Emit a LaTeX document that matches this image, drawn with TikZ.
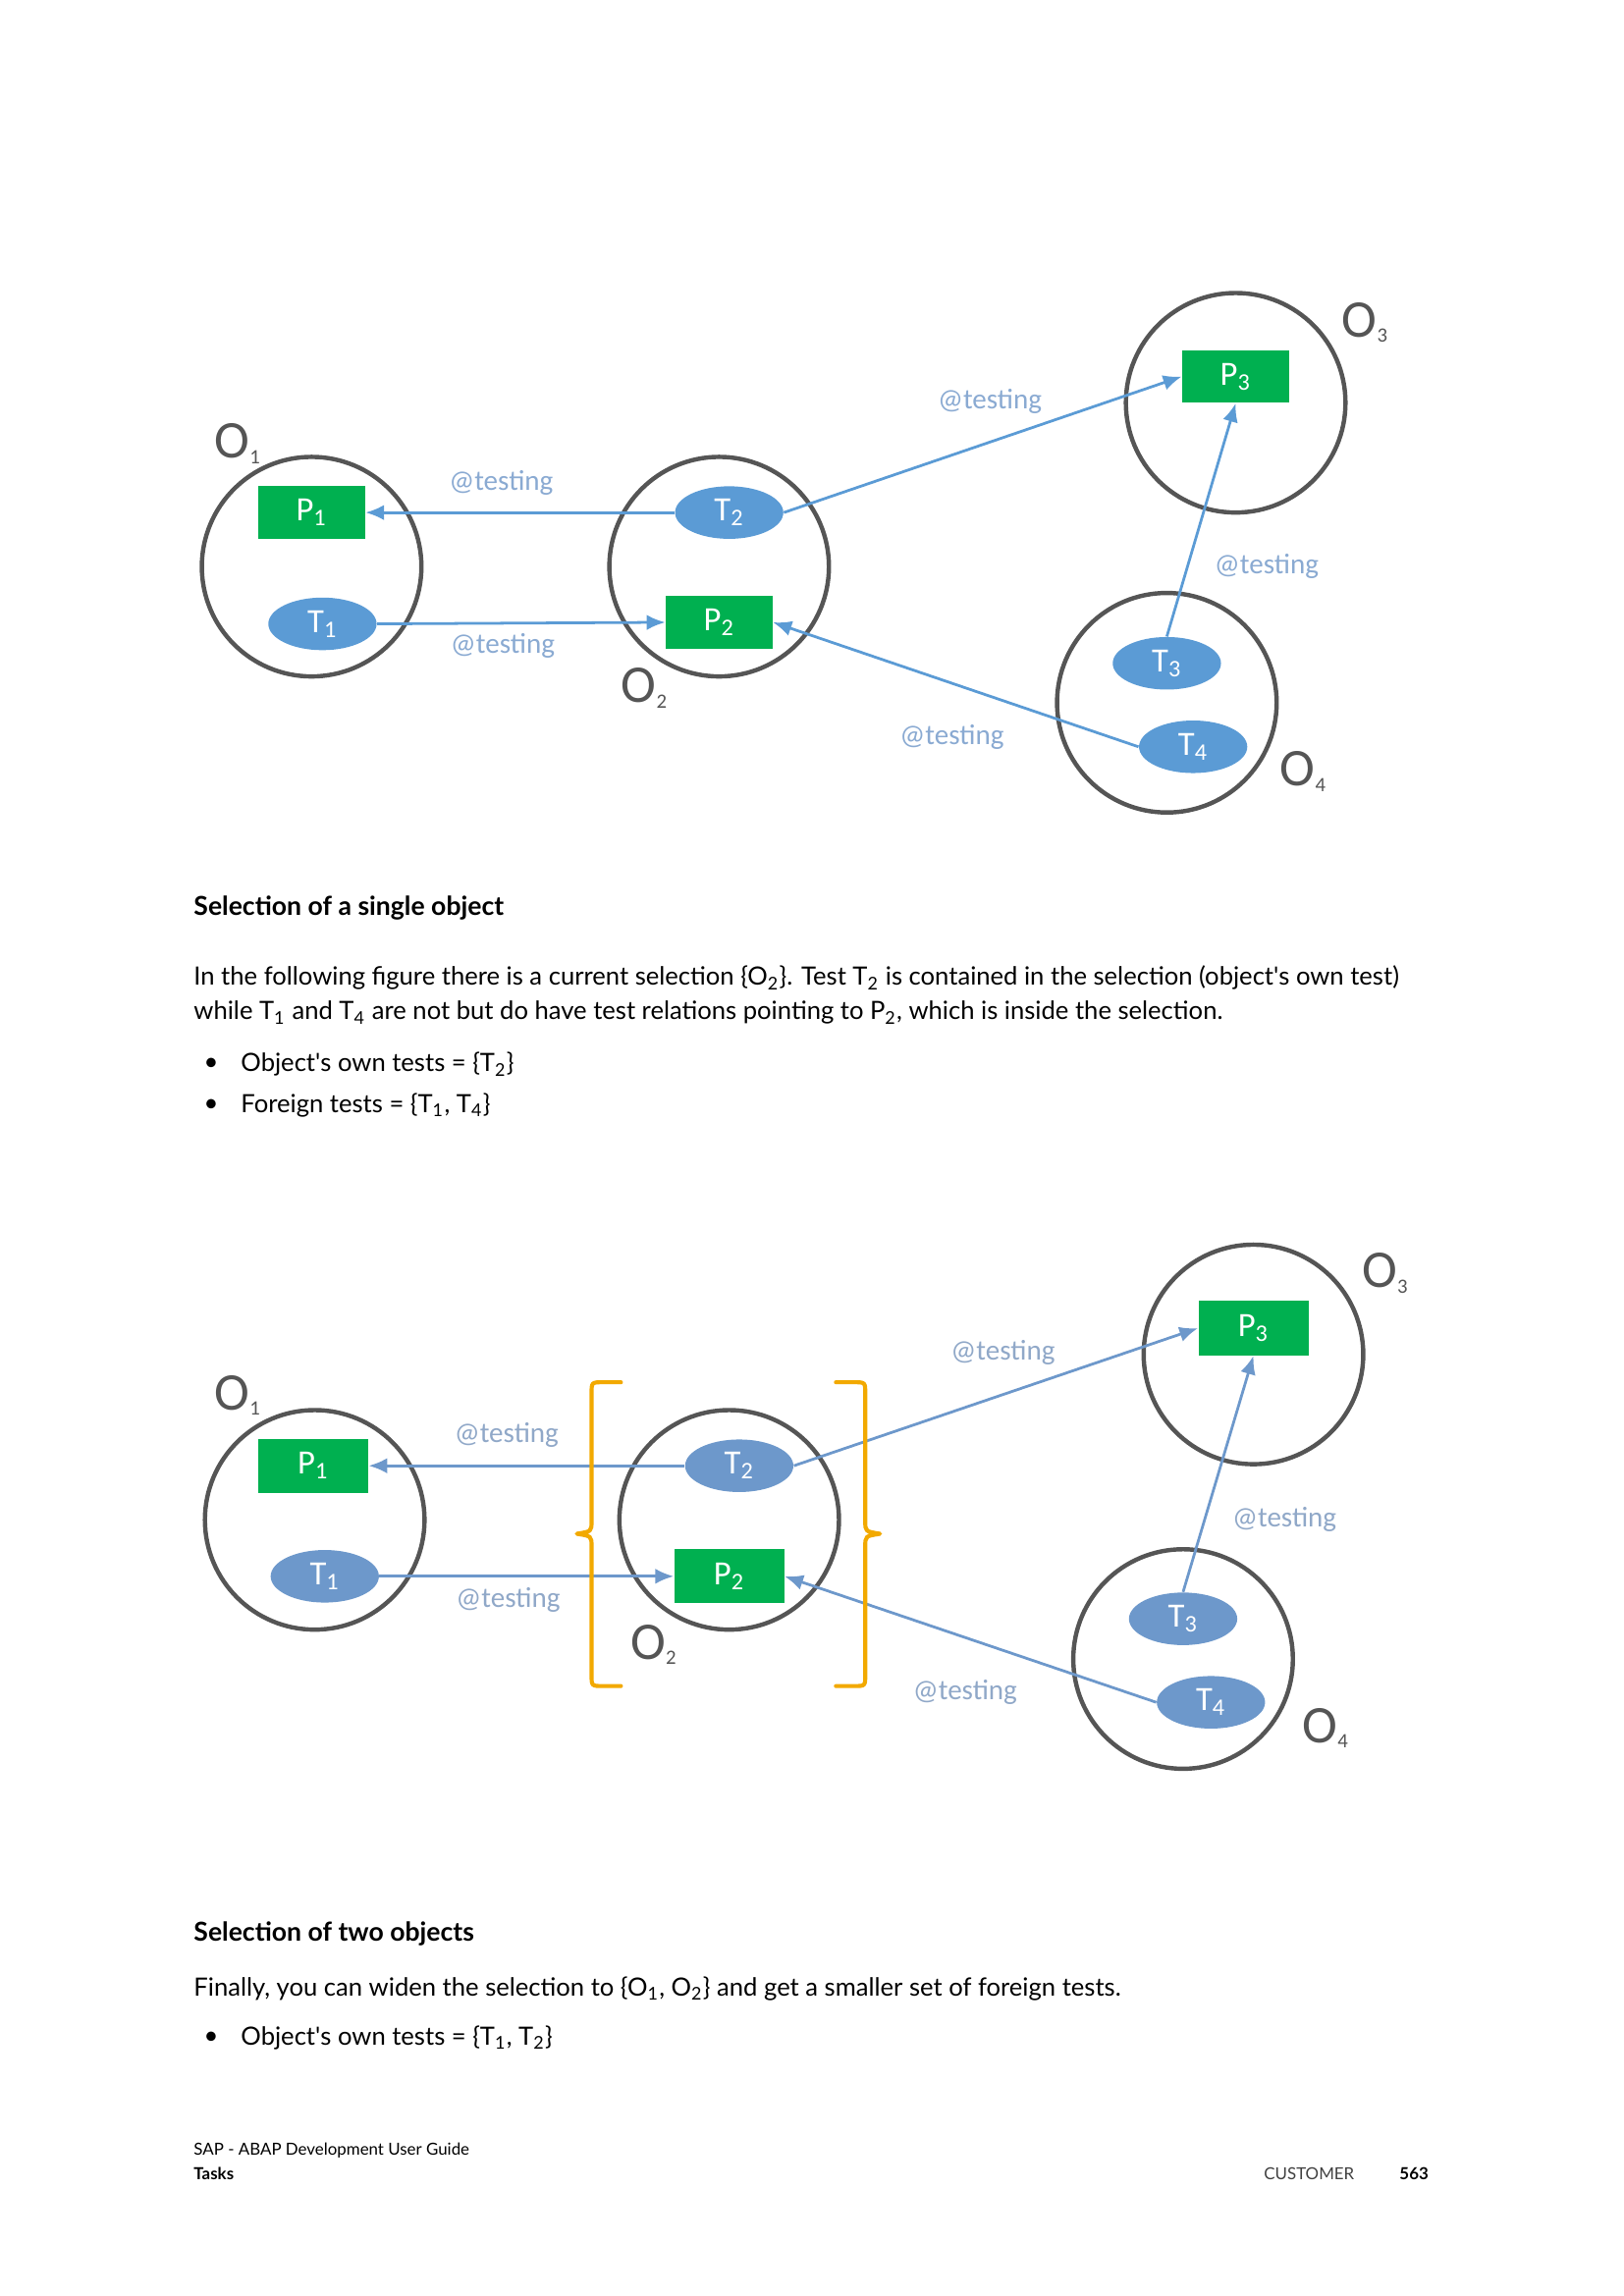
\documentclass[tikz,border=0pt]{standalone}
\usepackage{fontspec}
\setmainfont{Lato}
\newfontfamily\figfont{Carlito}
\usetikzlibrary{arrows.meta,shapes.geometric}

\definecolor{pgreen}{HTML}{00B050}
\definecolor{tblue}{HTML}{5B9BD5}
\definecolor{tgray}{HTML}{6D98CB}
\definecolor{lblblue}{HTML}{8AAAD2}
\definecolor{lblgray}{HTML}{90A8C8}
\definecolor{ogray}{HTML}{555555}
\definecolor{bracecol}{HTML}{F2A900}

% small index for the object labels
\newcommand\osub[1]{\raisebox{-0.2ex}{\fontsize{7.5}{7.5}\selectfont #1}}

\tikzset{
  obj/.style={circle,draw=ogray,line width=1.6pt,minimum size=2.84cm,inner sep=0pt},
  pbox/.style={rectangle,fill=pgreen,minimum width=1.38cm,minimum height=0.68cm,inner sep=0pt,
    text=white,font=\figfont\fontsize{12.5}{12.5}\selectfont},
  tell/.style={ellipse,fill=tblue,minimum width=1.40cm,minimum height=0.68cm,inner sep=0pt,
    text=white,font=\figfont\fontsize{12.5}{12.5}\selectfont},
  olbl/.style={text=ogray,font=\figfont\fontsize{19.5}{19.5}\selectfont,inner sep=0pt},
  rel/.style={draw=tblue,line width=1pt,-{Latex[length=2.4mm,width=2mm]}},
  rlbl/.style={text=lblblue,font=\figfont\fontsize{10.5}{10.5}\selectfont,inner sep=0pt},
  brace/.style={draw=bracecol,line width=1.5pt,line join=round,line cap=round},
  head/.style={anchor=west,inner sep=0pt,font=\bfseries\fontsize{9.6}{11}\selectfont},
  body/.style={anchor=west,inner sep=0pt,font=\fontsize{9.25}{11}\selectfont},
  foot/.style={anchor=west,inner sep=0pt,font=\fontsize{6.1}{8}\selectfont}
}

\begin{document}
\begin{tikzpicture}
\useasboundingbox (0,0) rectangle (21,-29.7);

% first figure
\node[obj] (o1) at (4.03,-7.33) {};
\node[obj] (o2) at (9.30,-7.33) {};
\node[obj] (o3) at (15.98,-5.21) {};
\node[obj] (o4) at (15.09,-9.09) {};
\node[olbl] (o1l) at (3.07,-5.74) {O\osub{1}};
\node[olbl] (o2l) at (8.33,-8.90) {O\osub{2}};
\node[olbl] (o3l) at (17.65,-4.17) {O\osub{3}};
\node[olbl] (o4l) at (16.85,-9.98) {O\osub{4}};

\node[pbox] (p1) at (4.03,-6.63) {P\textsubscript{1}};
\node[pbox] (p2) at (9.30,-8.05) {P\textsubscript{2}};
\node[pbox] (p3) at (15.98,-4.87) {P\textsubscript{3}};
\node[tell] (t1) at (4.17,-8.07) {T\textsubscript{1}};
\node[tell] (t2) at (9.43,-6.63) {T\textsubscript{2}};
\node[tell] (t3) at (15.09,-8.58) {T\textsubscript{3}};
\node[tell] (t4) at (15.43,-9.66) {T\textsubscript{4}};

\path[rel] (t2.west) -- (p1.east);
\path[rel] (t1.east) -- (p2.west);
\path[rel] (t2.east) -- (p3.west);
\path[rel] (t3.north) -- (p3.south);
\path[rel] (t4.west) -- (p2.east);

\node[rlbl] (r1) at (6.48,-6.25) {@testing};
\node[rlbl] (r2) at (6.50,-8.35) {@testing};
\node[rlbl] (r3) at (12.80,-5.19) {@testing};
\node[rlbl] (r4) at (16.38,-7.33) {@testing};
\node[rlbl] (r5) at (12.31,-9.53) {@testing};

% text between the figures
\node[head] (h1) at (2.50,-11.74) {Selection of a single object};
\node[body] (b1) at (2.50,-12.65) {In the following figure there is a current selection \{O\textsubscript{2}\}. Test T\textsubscript{2} is contained in the selection (object\textquotesingle s own test)};
\node[body] (b2) at (2.50,-13.10) {while T\textsubscript{1} and T\textsubscript{4} are not but do have test relations pointing to P\textsubscript{2}, which is inside the selection.};
\node[body] (d1) at (2.63,-13.77) {\textbullet};
\node[body] (i1) at (3.11,-13.77) {Object\textquotesingle s own tests = \{T\textsubscript{2}\}};
\node[body] (d2) at (2.63,-14.30) {\textbullet};
\node[body] (i2) at (3.11,-14.30) {Foreign tests = \{T\textsubscript{1}, T\textsubscript{4}\}};

% second figure
\node[obj] (q1) at (4.07,-19.66) {};
\node[obj] (q2) at (9.43,-19.66) {};
\node[obj] (q3) at (16.21,-17.52) {};
\node[obj] (q4) at (15.30,-21.46) {};
\node[olbl] (q1l) at (3.07,-18.05) {O\osub{1}};
\node[olbl] (q2l) at (8.45,-21.27) {O\osub{2}};
\node[olbl] (q3l) at (17.91,-16.47) {O\osub{3}};
\node[olbl] (q4l) at (17.14,-22.35) {O\osub{4}};

\node[pbox,minimum width=1.42cm,minimum height=0.70cm] (s1) at (4.05,-18.96) {P\textsubscript{1}};
\node[pbox,minimum width=1.42cm,minimum height=0.70cm] (s2) at (9.43,-20.39) {P\textsubscript{2}};
\node[pbox,minimum width=1.42cm,minimum height=0.70cm] (s3) at (16.21,-17.18) {P\textsubscript{3}};
\node[tell,fill=tgray] (u1) at (4.20,-20.39) {T\textsubscript{1}};
\node[tell,fill=tgray] (u2) at (9.56,-18.96) {T\textsubscript{2}};
\node[tell,fill=tgray] (u3) at (15.30,-20.94) {T\textsubscript{3}};
\node[tell,fill=tgray] (u4) at (15.66,-22.02) {T\textsubscript{4}};

\path[rel,draw=tgray] (u2.west) -- (s1.east);
\path[rel,draw=tgray] (u1.east) -- (s2.west);
\path[rel,draw=tgray] (u2.east) -- (s3.west);
\path[rel,draw=tgray] (u3.north) -- (s3.south);
\path[rel,draw=tgray] (u4.west) -- (s2.east);

\node[rlbl,text=lblgray] (v1) at (6.55,-18.56) {@testing};
\node[rlbl,text=lblgray] (v2) at (6.57,-20.70) {@testing};
\node[rlbl,text=lblgray] (v3) at (12.97,-17.50) {@testing};
\node[rlbl,text=lblgray] (v4) at (16.61,-19.66) {@testing};
\node[rlbl,text=lblgray] (v5) at (12.48,-21.89) {@testing};

% selection braces
\draw[brace] (8.03,-17.88) -- (7.80,-17.88) .. controls (7.65,-17.88) .. (7.65,-18.03)
  -- (7.65,-19.68) .. controls (7.65,-19.81) .. (7.46,-19.84)
  .. controls (7.65,-19.87) .. (7.65,-20.00) -- (7.65,-21.66)
  .. controls (7.65,-21.81) .. (7.80,-21.81) -- (8.03,-21.81);
\draw[brace] (10.81,-17.88) -- (11.04,-17.88) .. controls (11.19,-17.88) .. (11.19,-18.03)
  -- (11.19,-19.68) .. controls (11.19,-19.81) .. (11.38,-19.84)
  .. controls (11.19,-19.87) .. (11.19,-20.00) -- (11.19,-21.66)
  .. controls (11.19,-21.81) .. (11.04,-21.81) -- (10.81,-21.81);

% text below
\node[head] (h2) at (2.50,-25.02) {Selection of two objects};
\node[body] (b3) at (2.50,-25.72) {Finally, you can widen the selection to \{O\textsubscript{1}, O\textsubscript{2}\} and get a smaller set of foreign tests.};
\node[body] (d3) at (2.63,-26.36) {\textbullet};
\node[body] (i3) at (3.11,-26.36) {Object\textquotesingle s own tests = \{T\textsubscript{1}, T\textsubscript{2}\}};

% footer
\node[foot] (f1) at (2.50,-27.82) {SAP - ABAP Development User Guide};
\node[foot,font=\bfseries\fontsize{6.1}{8}\selectfont] (f2) at (2.50,-28.12) {Tasks};
\node[foot,text=black!75] (f3) at (16.34,-28.12) {CUSTOMER};
\node[foot,anchor=east,font=\bfseries\fontsize{6.1}{8}\selectfont] (f4) at (18.48,-28.12) {563};
\end{tikzpicture}
\end{document}
